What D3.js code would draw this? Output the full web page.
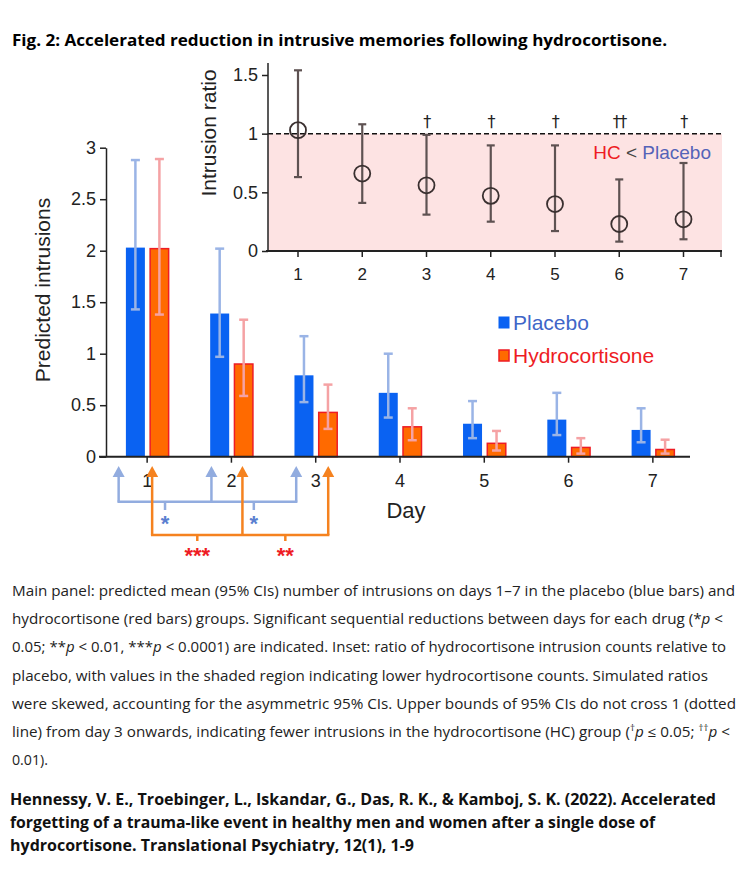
<!DOCTYPE html>
<html>
<head>
<meta charset="utf-8">
<script src="https://cdn.jsdelivr.net/npm/d3@7"></script>
<style>
body { margin: 0; background: #fff; }
svg { display: block; }
</style>
</head>
<body>
<svg id="fig" width="742" height="884"></svg>
<script>
// values
var days = [1, 2, 3, 4, 5, 6, 7];

var placeboMean = [2.03, 1.39, 0.79, 0.62, 0.32, 0.36, 0.26];
var placeboLo   = [1.43, 0.97, 0.53, 0.38, 0.18, 0.21, 0.14];
var placeboHi   = [2.88, 2.02, 1.17, 1.00, 0.54, 0.62, 0.47];

var hcMean = [2.02, 0.90, 0.43, 0.29, 0.13, 0.09, 0.07];
var hcLo   = [1.38, 0.59, 0.27, 0.16, 0.06, 0.03, 0.03];
var hcHi   = [2.89, 1.33, 0.70, 0.47, 0.25, 0.18, 0.165];

var ratio   = [1.03, 0.66, 0.56, 0.47, 0.40, 0.23, 0.27];
var ratioLo = [0.63, 0.41, 0.31, 0.25, 0.17, 0.08, 0.10];
var ratioHi = [1.54, 1.08, 0.99, 0.90, 0.90, 0.61, 0.75];
var ratioSig = ["", "", "†", "†", "†", "††", "†"];

var mainTicks = [0, 0.5, 1, 1.5, 2, 2.5, 3];
var insetTicks = [0, 0.5, 1, 1.5];

// sequential comparisons [from day, to day, stars]
var placeboComp = [[1, 2, "*"], [2, 3, "*"]];
var hcComp = [[1, 2, "***"], [2, 3, "**"]];

var blue = "#0a62f2", orange = "#ff6a00", red = "#ee1c24";
var blueCI = "#9ab4e6", redCI = "#f5a2a4";
var arrowBlue = "#92acdf", arrowOrange = "#f5821f";
var axisFont = "Liberation Sans, Arial, sans-serif";

var svg = d3.select("#fig");

svg.append("text")
	.attr("x", 12).attr("y", 46)
	.attr("font-family", "Open Sans, sans-serif")
	.attr("font-weight", "bold")
	.attr("font-size", 16)
	.attr("textLength", 655)
	.attr("lengthAdjust", "spacingAndGlyphs")
	.text("Fig. 2: Accelerated reduction in intrusive memories following hydrocortisone.");

// ---------- main panel ----------
var x = d3.scaleBand().domain(days).range([105, 695]);
var y = d3.scaleLinear().domain([0, 3]).range([456.7, 147.7]);
var barW = 19, gap = 4.5;

var main = svg.append("g");

var yAx = main.append("g")
	.attr("transform", "translate(106,0)")
	.call(d3.axisLeft(y).tickValues(mainTicks).tickFormat(d3.format("")).tickSize(6).tickSizeOuter(0));
yAx.select(".domain").attr("stroke", "#222").attr("stroke-width", 1.5);
yAx.selectAll(".tick line").attr("stroke", "#222").attr("stroke-width", 1.5);
yAx.selectAll("text").attr("font-family", axisFont).attr("font-size", 18).attr("fill", "#222").attr("x", -10);

main.append("text")
	.attr("transform", "translate(50,290) rotate(-90)")
	.attr("text-anchor", "middle")
	.attr("font-family", axisFont).attr("font-size", 21).attr("fill", "#222")
	.text("Predicted intrusions");

function cx(d) { return x(d) + x.bandwidth() / 2; }

// bars
main.selectAll(".pbar").data(days).enter().append("rect")
	.attr("x", function(d) { return cx(d) - gap / 2 - barW; })
	.attr("y", function(d, i) { return y(placeboMean[i]); })
	.attr("width", barW)
	.attr("height", function(d, i) { return y(0) - y(placeboMean[i]); })
	.attr("fill", blue);

main.selectAll(".hbar").data(days).enter().append("rect")
	.attr("x", function(d) { return cx(d) + gap / 2 + 0.75; })
	.attr("y", function(d, i) { return y(hcMean[i]); })
	.attr("width", barW - 0.5)
	.attr("height", function(d, i) { return y(0) - y(hcMean[i]); })
	.attr("fill", orange)
	.attr("stroke", red).attr("stroke-width", 1.5);

function errBars(g, xs, lo, hi, yS, col, cap, sw) {
	days.forEach(function(d, i) {
		var xx = xs(d);
		g.append("line").attr("x1", xx).attr("x2", xx)
			.attr("y1", yS(lo[i])).attr("y2", yS(hi[i]))
			.attr("stroke", col).attr("stroke-width", sw);
		[lo[i], hi[i]].forEach(function(v) {
			g.append("line").attr("x1", xx - cap).attr("x2", xx + cap)
				.attr("y1", yS(v)).attr("y2", yS(v))
				.attr("stroke", col).attr("stroke-width", sw);
		});
	});
}
errBars(main, function(d) { return cx(d) - gap / 2 - barW / 2; }, placeboLo, placeboHi, y, blueCI, 4.5, 2.5);
errBars(main, function(d) { return cx(d) + gap / 2 + barW / 2 + 0.5; }, hcLo, hcHi, y, redCI, 4.5, 2.5);

// x axis
main.append("line").attr("x1", 99).attr("x2", 690)
	.attr("y1", y(0)).attr("y2", y(0))
	.attr("stroke", "#222").attr("stroke-width", 2);
main.selectAll(".xt").data(days).enter().append("line")
	.attr("x1", cx).attr("x2", cx)
	.attr("y1", y(0)).attr("y2", y(0) + 6)
	.attr("stroke", "#222").attr("stroke-width", 1.5);
main.selectAll(".xl").data(days).enter().append("text")
	.attr("x", cx).attr("y", 487)
	.attr("text-anchor", "middle")
	.attr("font-family", axisFont).attr("font-size", 18).attr("fill", "#222")
	.text(function(d) { return d; });
main.append("text")
	.attr("x", 406).attr("y", 518)
	.attr("text-anchor", "middle")
	.attr("font-family", axisFont).attr("font-size", 22).attr("fill", "#222")
	.text("Day");

// significance brackets
function brackets(comps, offsets, yBar, yMid, col, starCol, starY, starSize) {
	var g = main.append("g");
	var tipY = 466;
	var xs = days.slice(0, 3).map(function(d, i) { return cx(d) + offsets[i]; });
	xs.forEach(function(xx) {
		g.append("line").attr("x1", xx).attr("x2", xx)
			.attr("y1", yBar).attr("y2", tipY + 8)
			.attr("stroke", col).attr("stroke-width", 2.5);
		g.append("path")
			.attr("d", "M" + xx + "," + tipY + " L" + (xx + 6) + "," + (tipY + 11) + " L" + (xx - 6) + "," + (tipY + 11) + " Z")
			.attr("fill", col);
	});
	g.append("line").attr("x1", xs[0] - 1.2).attr("x2", xs[2] + 1.2)
		.attr("y1", yBar).attr("y2", yBar)
		.attr("stroke", col).attr("stroke-width", 2.5);
	comps.forEach(function(c) {
		var mx = (xs[c[0] - 1] + xs[c[1] - 1]) / 2;
		g.append("line").attr("x1", mx).attr("x2", mx)
			.attr("y1", yBar).attr("y2", yMid)
			.attr("stroke", col).attr("stroke-width", 2.5);
		g.append("text").attr("x", mx).attr("y", starY)
			.attr("text-anchor", "middle")
			.attr("font-family", axisFont).attr("font-size", starSize)
			.attr("font-weight", "bold")
			.attr("fill", starCol).text(c[2]);
	});
}
brackets(placeboComp, [-28.5, -20, -19.5], 501.7, 510, arrowBlue, "#5a7fd0", 531, 22);
brackets(hcComp, [5, 11, 12.5], 535, 541, arrowOrange, red, 563, 22);

// legend
var leg = main.append("g");
leg.append("rect").attr("x", 498.5).attr("y", 316.5).attr("width", 11).attr("height", 12).attr("fill", blue);
leg.append("text").attr("x", 513).attr("y", 330)
	.attr("font-family", axisFont).attr("font-size", 21).attr("fill", "#3f66c8").text("Placebo");
leg.append("rect").attr("x", 499).attr("y", 350).attr("width", 10).attr("height", 11)
	.attr("fill", orange).attr("stroke", red).attr("stroke-width", 1.5);
leg.append("text").attr("x", 513).attr("y", 363)
	.attr("font-family", axisFont).attr("font-size", 21).attr("fill", red).text("Hydrocortisone");

// ---------- inset ----------
var xi = d3.scaleLinear().domain([1, 7]).range([298, 683.5]);
var yi = d3.scaleLinear().domain([0, 1.5]).range([251, 75]);
var inset = svg.append("g");

inset.append("rect")
	.attr("x", 268).attr("y", yi(1))
	.attr("width", 722 - 268).attr("height", yi(0) - yi(1))
	.attr("fill", "#fde3e3");

inset.append("line").attr("x1", 268).attr("x2", 722)
	.attr("y1", yi(1)).attr("y2", yi(1))
	.attr("stroke", "#111").attr("stroke-width", 1.5).attr("stroke-dasharray", "5,3");

var yiAx = inset.append("g")
	.attr("transform", "translate(268,0)")
	.call(d3.axisLeft(yi).tickValues(insetTicks).tickFormat(d3.format("")).tickSize(6).tickSizeOuter(0));
yiAx.select(".domain").attr("d", "M0," + yi(0) + "V63").attr("stroke", "#222").attr("stroke-width", 1.5);
yiAx.selectAll(".tick line").attr("stroke", "#222").attr("stroke-width", 1.5);
yiAx.selectAll("text").attr("font-family", axisFont).attr("font-size", 18).attr("fill", "#222").attr("x", -10);

inset.append("text")
	.attr("transform", "translate(216,133) rotate(-90)")
	.attr("text-anchor", "middle")
	.attr("font-family", axisFont).attr("font-size", 21).attr("fill", "#222")
	.text("Intrusion ratio");

inset.append("line").attr("x1", 266).attr("x2", 722)
	.attr("y1", yi(0)).attr("y2", yi(0))
	.attr("stroke", "#222").attr("stroke-width", 2);
inset.selectAll(".xt").data(days.concat([7.5])).enter().append("line")
	.attr("x1", function(d) { return d === 7.5 ? 721 : xi(d); })
	.attr("x2", function(d) { return d === 7.5 ? 721 : xi(d); })
	.attr("y1", yi(0)).attr("y2", yi(0) + 6)
	.attr("stroke", "#222").attr("stroke-width", 1.5);
inset.selectAll(".xl").data(days).enter().append("text")
	.attr("x", xi).attr("y", 280)
	.attr("text-anchor", "middle")
	.attr("font-family", axisFont).attr("font-size", 17).attr("fill", "#222")
	.text(function(d) { return d; });

errBars(inset, xi, ratioLo, ratioHi, yi, "#5e5252", 4, 2.2);

inset.selectAll(".pt").data(days).enter().append("circle")
	.attr("cx", xi)
	.attr("cy", function(d, i) { return yi(ratio[i]); })
	.attr("r", 8)
	.attr("fill", "none")
	.attr("stroke", "#3a3030").attr("stroke-width", 1.8);

inset.selectAll(".sig").data(days).enter().append("text")
	.attr("x", xi).attr("y", 127)
	.attr("text-anchor", "middle")
	.attr("font-family", "DejaVu Sans, sans-serif").attr("font-size", 16)
	.attr("fill", "#222")
	.attr("letter-spacing", -1.5)
	.text(function(d, i) { return ratioSig[i]; });

var hcTxt = inset.append("text").attr("x", 711).attr("y", 159)
	.attr("text-anchor", "end")
	.attr("font-family", axisFont).attr("font-size", 19);
hcTxt.append("tspan").attr("fill", red).text("HC ");
hcTxt.append("tspan").attr("fill", "#444").text("< ");
hcTxt.append("tspan").attr("fill", "#5563b8").text("Placebo");

// ---------- caption ----------
var capLines = [
	[["Main panel: predicted mean (95% CIs) number of intrusions on days 1–7 in the placebo (blue bars) and"]],
	[["hydrocortisone (red bars) groups. Significant sequential reductions between days for each drug (*"], ["p", "i"], [" <"]],
	[["0.05; **"], ["p", "i"], [" < 0.01, ***"], ["p", "i"], [" < 0.0001) are indicated. Inset: ratio of hydrocortisone intrusion counts relative to"]],
	[["placebo, with values in the shaded region indicating lower hydrocortisone counts. Simulated ratios"]],
	[["were skewed, accounting for the asymmetric 95% CIs. Upper bounds of 95% CIs do not cross 1 (dotted"]],
	[["line) from day 3 onwards, indicating fewer intrusions in the hydrocortisone (HC) group ("], ["†", "s"], ["p", "i"], [" ≤ 0.05; "], ["††", "s"], ["p", "i"], [" <"]],
	[["0.01)."]]
];
var capWidths = [723, 711, 714, 696, 724, 718, 36];

capLines.forEach(function(line, k) {
	var t = svg.append("text")
		.attr("x", 12).attr("y", 596 + k * 28.2)
		.attr("font-family", "Open Sans, sans-serif")
		.attr("font-size", 14).attr("fill", "#222")
		.attr("textLength", capWidths[k])
		.attr("lengthAdjust", "spacingAndGlyphs");
	line.forEach(function(seg) {
		var s = t.append("tspan").text(seg[0]);
		if (seg[1] === "i") s.attr("font-style", "italic");
		if (seg[1] === "s") s.attr("font-size", 9).attr("baseline-shift", "super");
	});
});

var citeLines = [
	"Hennessy, V. E., Troebinger, L., Iskandar, G., Das, R. K., & Kamboj, S. K. (2022). Accelerated",
	"forgetting of a trauma-like event in healthy men and women after a single dose of",
	"hydrocortisone. Translational Psychiatry, 12(1), 1-9"
];
var citeWidths = [706, 645, 404];
citeLines.forEach(function(l, k) {
	svg.append("text")
		.attr("x", 10).attr("y", 805 + k * 23)
		.attr("font-family", "Open Sans, sans-serif")
		.attr("font-weight", "bold").attr("font-size", 16).attr("fill", "#111")
		.attr("textLength", citeWidths[k])
		.attr("lengthAdjust", "spacingAndGlyphs")
		.text(l);
});
</script>
</body>
</html>
